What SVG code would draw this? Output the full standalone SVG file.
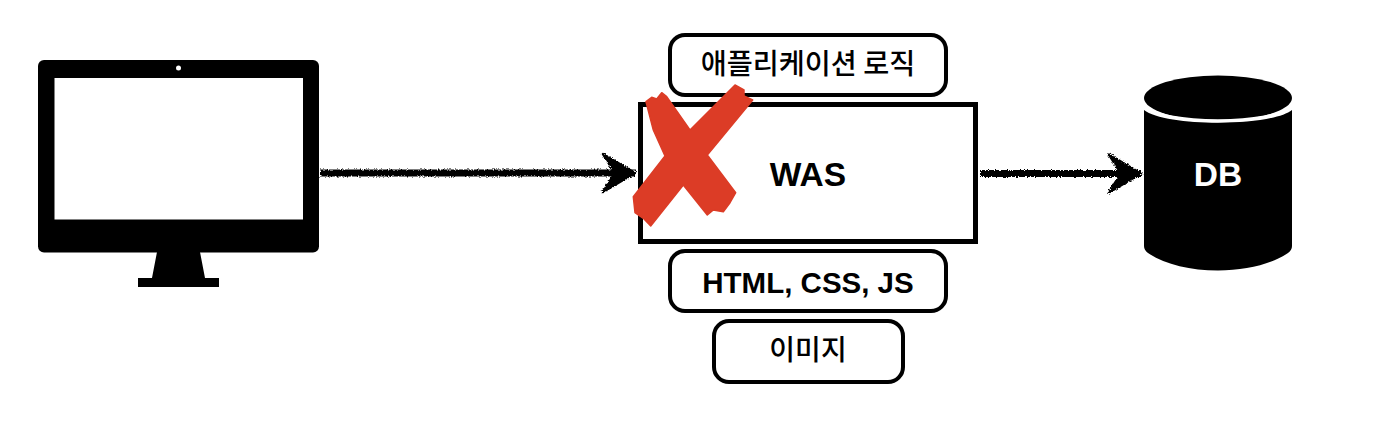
<svg xmlns="http://www.w3.org/2000/svg" width="1386" height="434" viewBox="0 0 1386 434">
<style>
.box{fill:#fff;stroke:#000;stroke-width:4}
.was{fill:#fff;stroke:#000;stroke-width:5}
.t{font-family:"Liberation Sans","Noto Sans CJK KR",sans-serif;font-weight:700;text-anchor:middle;fill:#000}
.k{font-family:"Noto Sans CJK KR","Liberation Sans",sans-serif;font-weight:500;text-anchor:middle;fill:#000}
.conn{fill:none;stroke:#000;stroke-width:7}
</style>
<defs>
<filter id="rough" filterUnits="userSpaceOnUse" x="300" y="140" width="860" height="70">
<feTurbulence type="fractalNoise" baseFrequency="0.7" numOctaves="2" seed="4"/>
<feDisplacementMap in="SourceGraphic" scale="4" xChannelSelector="R" yChannelSelector="G"/>
</filter>
<marker id="head" markerUnits="userSpaceOnUse" markerWidth="40" markerHeight="46" refX="34" refY="23" orient="auto">
<path d="M2 4L34 23L2 42L14 23Z" fill="#000" stroke="#000" stroke-width="2.500" stroke-linejoin="round"/>
</marker>
</defs>
<g id="connectors" filter="url(#rough)">
<path class="conn" d="M320 173H635" marker-end="url(#head)"/>
<path class="conn" d="M980 173.500H1141" marker-end="url(#head)"/>
</g>
<g id="client">
<rect x="38" y="60" width="281" height="192.500" rx="6" fill="#000"/>
<rect x="54.500" y="78" width="248.500" height="141.500" fill="#fff"/>
<circle cx="178.500" cy="68" r="2.500" fill="#fff"/>
<path d="M157 252H200L205 278H219V287H138V278H152Z" fill="#000"/>
</g>
<g id="logic">
<rect class="box" x="670" y="35" width="276" height="60" rx="15"/>
<text class="k" x="808" y="74" font-size="28.300">애플리케이션 로직</text>
</g>
<g id="was">
<rect class="was" x="640.500" y="104.500" width="335" height="137"/>
<text class="t" x="808" y="186" font-size="33.500">WAS</text>
</g>
<g id="static">
<rect class="box" x="670" y="251" width="276" height="60" rx="15"/>
<text class="t" x="808" y="292.500" font-size="29.500">HTML, CSS, JS</text>
</g>
<g id="image">
<rect class="box" x="714" y="321" width="189" height="61" rx="15"/>
<text class="k" x="808" y="360" font-size="28">이미지</text>
</g>
<g id="x-mark">
<path d="M646 101.700L651.700 97.300L656.700 99L661.700 92.700L666.700 96.700L690 130L735 85L744 90L744 96L752.700 100L707.300 155L735.700 192.700L730 202.700L723.300 211.700L713.300 210L707.300 215L683.300 185L650.700 226L643.300 218.300L635 212.700L633.300 196.700L665 156L653.300 130Z" fill="#dc3c26" stroke="#dc3c26" stroke-width="1.500" stroke-linejoin="round"/>
</g>
<g id="db">
<path d="M1144 110C1165 127 1271 127 1292 110V246Q1292 250 1288 253C1272 264 1246 270.500 1218 270.500C1190 270.500 1164 264 1148 253Q1144 250 1144 246Z" fill="#000"/>
<ellipse cx="1218" cy="98" rx="74" ry="22.500" fill="#000"/>
<path d="M1144 106C1160 125.500 1276 125.500 1292 106" fill="none" stroke="#fff" stroke-width="3"/>
<text class="t" x="1218" y="185.500" font-size="33.500" style="fill:#fff">DB</text>
</g>
</svg>
